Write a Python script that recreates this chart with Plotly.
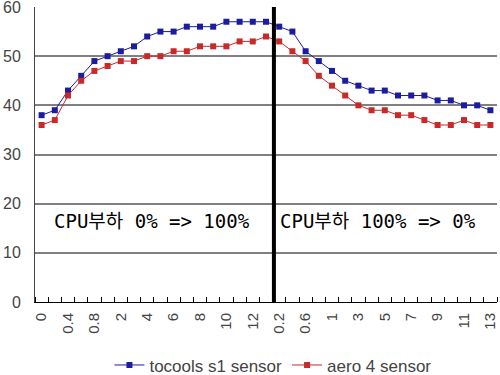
import plotly.graph_objects as go

labels = ["0", "0.2", "0.4", "0.6", "0.8", "1", "2", "3", "4", "5", "6", "7", "8", "9", "10", "11", "12",
          "0", "0.2", "0.4", "0.6", "0.8", "1", "2", "3", "4", "5", "6", "7", "8", "9", "10", "11", "12", "13"]
tocools = [38, 39, 43, 46, 49, 50, 51, 52, 54, 55, 55, 56, 56, 56, 57, 57, 57,
           57, 56, 55, 51, 49, 47, 45, 44, 43, 43, 42, 42, 42, 41, 41, 40, 40, 39]
aero = [36, 37, 42, 45, 47, 48, 49, 49, 50, 50, 51, 51, 52, 52, 52, 53, 53,
        54, 53, 51, 49, 46, 44, 42, 40, 39, 39, 38, 38, 37, 36, 36, 37, 36, 36]
y_ticks = [0, 10, 20, 30, 40, 50, 60]

x = list(range(len(labels)))
shown = [i for i in x if i % 2 == 0]

fig = go.Figure()
fig.add_trace(go.Scatter(x=x, y=tocools, mode="lines+markers", name="tocools s1 sensor",
                         line=dict(color="#1c1ca0", width=1),
                         marker=dict(symbol="square", size=6, color="#1c1ca0")))
fig.add_trace(go.Scatter(x=x, y=aero, mode="lines+markers", name="aero 4 sensor",
                         line=dict(color="#c82a2a", width=1),
                         marker=dict(symbol="square", size=6, color="#c82a2a")))

fig.add_shape(type="line", xref="x", yref="paper", x0=17.6, x1=17.6, y0=0, y1=1,
              line=dict(color="black", width=4))

fig.add_annotation(x=0.6, y=16.5, xref="x", yref="y", xanchor="left", text="CPU부하 0% => 100%",
                   showarrow=False, bgcolor="white", borderpad=3,
                   font=dict(family="DejaVu Sans Mono, Noto Sans CJK KR", size=19, color="black"))
fig.add_annotation(x=17.85, y=16.5, xref="x", yref="y", xanchor="left", text="CPU부하 100% => 0%",
                   showarrow=False, bgcolor="white", borderpad=2,
                   font=dict(family="DejaVu Sans Mono, Noto Sans CJK KR", size=19, color="black"))

fig.update_layout(
    width=500, height=375,
    margin=dict(l=35, r=3, t=7, b=73, autoexpand=False),
    paper_bgcolor="white", plot_bgcolor="white",
    font=dict(family="Liberation Sans, Arial", size=15, color="#444"),
    showlegend=True,
    legend=dict(orientation="h", x=0.515, xanchor="center", y=-0.215, yanchor="middle",
                font=dict(size=17, color="#444"), itemwidth=30),
    xaxis=dict(range=[-0.5, len(labels) - 0.5], tickmode="array", tickvals=shown,
               ticktext=[labels[i] for i in shown], tickangle=-90, ticks="", showgrid=False,
               showline=True, linecolor="black", linewidth=1, zeroline=False, automargin=False,
               ticklabeloverflow="allow", ticklabelstandoff=4,
               minor=dict(tick0=-0.5, dtick=1, ticks="inside", ticklen=5, tickcolor="black", showgrid=False),
               tickfont=dict(size=15, color="#444")),
    yaxis=dict(range=[0, 60], tickmode="array", tickvals=y_ticks, showgrid=True, automargin=False,
               ticklabeloverflow="allow", ticklabelstandoff=10,
               gridcolor="#808080", gridwidth=1.5, showline=True, linecolor="#444", linewidth=1,
               zeroline=False, ticks="", tickfont=dict(size=16, color="#444")),
)

fig.write_html("out.html", post_script="document.body.style.margin='0';",
               config={"displayModeBar": False})
